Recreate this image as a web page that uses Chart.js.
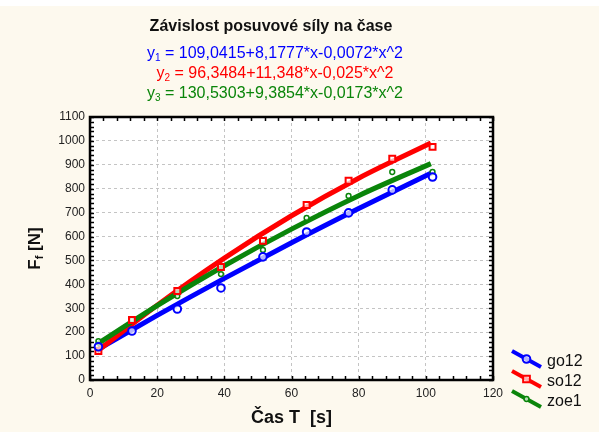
<!DOCTYPE html>
<html>
<head>
<meta charset="utf-8">
<script src="https://cdn.jsdelivr.net/npm/chart.js@4/dist/chart.umd.min.js"></script>
<style>
  html, body { margin: 0; padding: 0; background: #fff; }
  #wrap { width: 599px; height: 432px; }
</style>
</head>
<body>
<div id="wrap"><canvas id="chartFit" width="599" height="432"></canvas></div>
<script>
// measured points
const timeS = [2.5, 12.5, 26, 39, 51.5, 64.5, 77, 90, 102];
const go12 = [139, 205, 297, 385, 515, 619, 699, 795, 849];
const so12 = [121, 251, 372, 473, 582, 732, 833, 925, 975];
const zoe1 = [163, 251, 351, 443, 544, 678, 770, 870, 870];

// fitted curves
const fitX = [2, 20, 40, 60, 80, 101.5];
const fitGo = [125, 270, 425, 574, 717, 865];
const fitSo = [119, 313, 510, 687, 844, 991];
const fitZoe = [149, 311, 478, 631, 771, 905];

const xTicks = [0, 20, 40, 60, 80, 100, 120];
const yTicks = [0, 100, 200, 300, 400, 500, 600, 700, 800, 900, 1000, 1100];

const seriesNames = ["go12", "so12", "zoe1"];
const equations = [
  { sub: "1", text: " = 109,0415+8,1777*x-0,0072*x^2" },
  { sub: "2", text: " = 96,3484+11,348*x-0,025*x^2" },
  { sub: "3", text: " = 130,5303+9,3854*x-0,0173*x^2" },
];

const BLUE = "#0000ff";
const RED = "#ff0000";
const GREEN = "#0a850a";
const FONT = "'Liberation Sans', Arial, sans-serif";

const toXY = (xs, ys) => xs.map((x, i) => ({ x: x, y: ys[i] }));

const markerStyle = [
  { pointStyle: "circle", pointRadius: 3.8, pointBorderWidth: 2, color: BLUE },
  { pointStyle: "rect", pointRadius: 4.2, pointBorderWidth: 2, color: RED },
  { pointStyle: "circle", pointRadius: 2.4, pointBorderWidth: 1.5, color: GREEN },
];

const pointSet = (label, ys, st) => ({
  label: label,
  data: toXY(timeS, ys),
  showLine: false,
  pointStyle: st.pointStyle,
  pointRadius: st.pointRadius,
  pointBorderWidth: st.pointBorderWidth,
  borderColor: st.color,
  backgroundColor: "rgba(255,255,255,0.7)",
  order: 0,
});

const fitSet = (ys, color, order) => ({
  data: toXY(fitX, ys),
  showLine: true,
  pointRadius: 0,
  borderColor: color,
  borderWidth: 5,
  cubicInterpolationMode: "monotone",
  fill: false,
  order: order,
});

// background, frame, inner ticks, texts, legend
const decorPlugin = {
  id: "decor",
  beforeDraw(chart) {
    const { ctx, chartArea: a } = chart;
    ctx.save();
    ctx.fillStyle = "#fdf9ee";
    ctx.fillRect(0, 6, chart.width, chart.height - 6);
    ctx.fillStyle = "#ffffff";
    ctx.fillRect(a.left, a.top, a.right - a.left, a.bottom - a.top);
    ctx.restore();
  },
  afterDraw(chart) {
    const { ctx, chartArea: a } = chart;
    const xs = chart.scales.x;
    const ys = chart.scales.y;
    ctx.save();

    // inner ticks
    ctx.strokeStyle = "#000";
    ctx.lineWidth = 1.5;
    ctx.beginPath();
    for (let v = 0; v <= 120; v += 4) {
      const px = Math.round(xs.getPixelForValue(v)) + 0.5;
      ctx.moveTo(px, a.bottom);
      ctx.lineTo(px, a.bottom - 4);
      ctx.moveTo(px, a.top);
      ctx.lineTo(px, a.top + 4);
    }
    for (let v = 0; v <= 1100; v += 20) {
      const py = Math.round(ys.getPixelForValue(v)) + 0.5;
      ctx.moveTo(a.left, py);
      ctx.lineTo(a.left + 4, py);
      ctx.moveTo(a.right, py);
      ctx.lineTo(a.right - 4, py);
    }
    ctx.stroke();

    // frame
    ctx.lineWidth = 2.5;
    ctx.strokeRect(a.left, a.top, a.right - a.left, a.bottom - a.top);

    // title
    ctx.fillStyle = "#111";
    ctx.textBaseline = "middle";
    ctx.textAlign = "center";
    ctx.font = "bold 16px " + FONT;
    ctx.fillText("Závislost posuvové síly na čase", 271, 27);

    // equations with subscript
    const eqColors = [BLUE, RED, GREEN];
    const eqY = [54, 74, 94];
    ctx.textAlign = "left";
    equations.forEach((eq, i) => {
      ctx.font = "16px " + FONT;
      const wy = ctx.measureText("y").width;
      const wt = ctx.measureText(eq.text).width;
      ctx.font = "10px " + FONT;
      const ws = ctx.measureText(eq.sub).width;
      const total = wy + ws + wt;
      let x0 = 275 - total / 2;
      ctx.fillStyle = eqColors[i];
      ctx.font = "16px " + FONT;
      ctx.fillText("y", x0, eqY[i]);
      ctx.font = "10px " + FONT;
      ctx.fillText(eq.sub, x0 + wy, eqY[i] + 4);
      ctx.font = "16px " + FONT;
      ctx.fillText(eq.text, x0 + wy + ws, eqY[i]);
    });

    // x title
    ctx.fillStyle = "#111";
    ctx.textAlign = "center";
    ctx.font = "bold 18px " + FONT;
    ctx.fillText("Čas T  [s]", (a.left + a.right) / 2, 418);

    // y title, rotated
    ctx.save();
    ctx.translate(35, (a.top + a.bottom) / 2);
    ctx.rotate(-Math.PI / 2);
    ctx.font = "bold 17px " + FONT;
    const wF = ctx.measureText("F").width;
    const wN = ctx.measureText(" [N]").width;
    ctx.font = "bold 11px " + FONT;
    const wf = ctx.measureText("f").width;
    let tx = -(wF + wf + wN) / 2;
    ctx.textAlign = "left";
    ctx.font = "bold 17px " + FONT;
    ctx.fillText("F", tx, 0);
    ctx.font = "bold 11px " + FONT;
    ctx.fillText("f", tx + wF, 5);
    ctx.font = "bold 17px " + FONT;
    ctx.fillText(" [N]", tx + wF + wf, 0);
    ctx.restore();

    // legend
    const legY = [359, 379, 399];
    seriesNames.forEach((name, i) => {
      const st = markerStyle[i];
      const y0 = legY[i];
      ctx.strokeStyle = st.color;
      ctx.lineWidth = 4;
      ctx.beginPath();
      ctx.moveTo(512, y0 - 8);
      ctx.lineTo(541, y0 + 8);
      ctx.stroke();
      ctx.lineWidth = st.pointBorderWidth;
      ctx.fillStyle = "rgba(255,255,255,0.7)";
      ctx.beginPath();
      if (st.pointStyle === "rect") {
        const r = st.pointRadius * 0.8;
        ctx.rect(526.5 - r, y0 - r, 2 * r, 2 * r);
      } else {
        ctx.arc(526.5, y0, st.pointRadius, 0, Math.PI * 2);
      }
      ctx.fill();
      ctx.stroke();
      ctx.fillStyle = "#111";
      ctx.font = "16px " + FONT;
      ctx.textAlign = "left";
      ctx.fillText(name, 547, y0 + 3);
    });

    ctx.restore();
  },
};

const tickFont = { size: 12, family: FONT };

const ctx = document.getElementById("chartFit").getContext("2d");
const myChart = new Chart(ctx, {
  type: "scatter",
  data: {
    datasets: [
      pointSet(seriesNames[0], go12, markerStyle[0]),
      pointSet(seriesNames[1], so12, markerStyle[1]),
      pointSet(seriesNames[2], zoe1, markerStyle[2]),
      fitSet(fitGo, BLUE, 3),
      fitSet(fitSo, RED, 2),
      fitSet(fitZoe, GREEN, 1),
    ],
  },
  options: {
    responsive: false,
    animation: false,
    layout: { padding: { left: 0, right: 106, top: 117, bottom: 0 } },
    scales: {
      x: {
        type: "linear",
        min: 0,
        max: 120,
        afterFit: (s) => { s.height = 52; },
        afterBuildTicks: (s) => { s.ticks = xTicks.map((v) => ({ value: v })); },
        grid: { color: "#c4c4c4", lineWidth: 1, drawTicks: false },
        border: { display: false, dash: [3, 3] },
        ticks: { color: "#222", padding: 6, font: tickFont, callback: (v) => String(v) },
      },
      y: {
        type: "linear",
        min: 0,
        max: 1100,
        afterFit: (s) => { s.width = 90; },
        afterBuildTicks: (s) => { s.ticks = yTicks.map((v) => ({ value: v })); },
        grid: { color: "#c4c4c4", lineWidth: 1, drawTicks: false },
        border: { display: false, dash: [3, 3] },
        ticks: { color: "#222", padding: 5, font: tickFont, callback: (v) => String(v) },
      },
    },
    plugins: {
      legend: { display: false },
      tooltip: { enabled: false },
    },
  },
  plugins: [decorPlugin],
});
</script>
</body>
</html>
